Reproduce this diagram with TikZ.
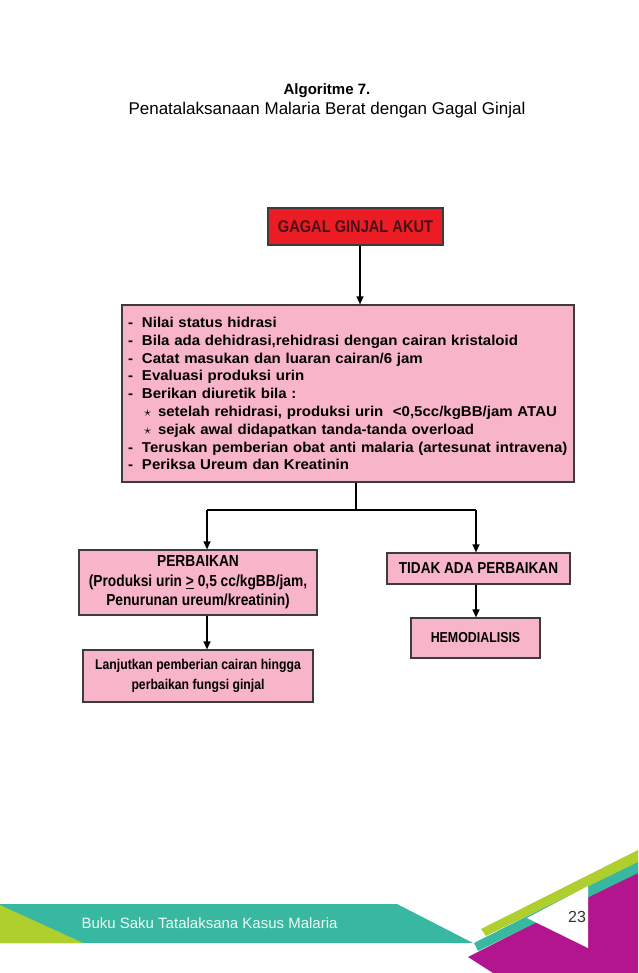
\documentclass[tikz,border=0pt]{standalone}
\usepackage{fontspec}
\setmainfont{Liberation Sans}
\newfontfamily\narrowsans[FakeStretch=0.86]{Liberation Sans}
\newfontfamily\widesans[FakeStretch=1.05]{Liberation Sans}
\usetikzlibrary{arrows.meta}
\definecolor{boxpink}{HTML}{F8B4C9}
\definecolor{akutred}{HTML}{EC1C24}
\definecolor{akuttext}{HTML}{4A1216}
\definecolor{framegray}{HTML}{3C3C3C}
\definecolor{footteal}{HTML}{38B8A0}
\definecolor{footlime}{HTML}{AECF2E}
\definecolor{footmagenta}{HTML}{B3158E}
\newcommand{\dashline}[1]{\makebox[14pt][l]{-}#1}
\newcommand{\starline}[1]{\hspace*{16pt}\makebox[14pt][l]{$\star$}#1}
\newcommand{\boxfont}[2]{\narrowsans\bfseries\fontsize{#1}{#2}\selectfont}

\begin{document}
\begin{tikzpicture}[x=1pt, y=-1pt,
	box/.style = {draw=framegray, line width=1.2pt, fill=boxpink, inner sep=0pt, align=center,
		font=\boxfont{14.4}{19.5}},
	>={Triangle[length=8pt,width=7pt]}]
				\useasboundingbox (0,0) rectangle (638,973);
				% title
				\node[font=\bfseries\fontsize{15}{18}\selectfont] (alg) at (327,91) {Algoritme 7.};
				\node[font=\fontsize{17}{18}\selectfont] (judul) at (327,110) {Penatalaksanaan Malaria Berat dengan Gagal Ginjal};
				% flow
				\node[box, fill=akutred, text=akuttext, minimum width=175pt, minimum height=37pt, font=\boxfont{17}{20}] (akut) at (355.5,226.5) {GAGAL GINJAL AKUT};
				\node[box, minimum width=452pt, minimum height=177pt, align=left, text width=440pt, inner xsep=6pt,
					font=\widesans\bfseries\fontsize{14.3}{17.8}\selectfont] (tata) at (348,393.5) {%
					\dashline{Nilai status hidrasi}\\
					\dashline{Bila ada dehidrasi,rehidrasi dengan cairan kristaloid}\\
					\dashline{Catat masukan dan luaran cairan/6 jam}\\
					\dashline{Evaluasi produksi urin}\\
					\dashline{Berikan diuretik bila :}\\
					\starline{setelah rehidrasi, produksi urin \ <0,5cc/kgBB/jam ATAU}\\
					\starline{sejak awal didapatkan tanda-tanda overload}\\
					\dashline{Teruskan pemberian obat anti malaria (artesunat intravena)}\\
					\dashline{Periksa Ureum dan Kreatinin}};
				\node[box, minimum width=238pt, minimum height=65pt, font=\boxfont{16}{19.5}] (perbaikan) at (198,582.5) {PERBAIKAN\\(Produksi urin \underline{>} 0,5 cc/kgBB/jam,\\Penurunan ureum/kreatinin)};
				\node[box, minimum width=230pt, minimum height=52pt, font=\boxfont{14.2}{20}] (lanjut) at (198,676) {Lanjutkan pemberian cairan hingga\\perbaikan fungsi ginjal};
				\node[box, minimum width=183pt, minimum height=31pt, font=\boxfont{15.8}{19}] (tidak) at (478.5,568.5) {TIDAK ADA PERBAIKAN};
				\node[box, minimum width=129pt, minimum height=40pt] (hemo) at (475.5,638) {HEMODIALISIS};
				\coordinate (cabang) at (356,510);
				\coordinate (kiri) at (207,510);
				\coordinate (kanan) at (476,510);
				\draw[line width=1.2pt, ->] (akut.south -| 360,0) -- (tata.north -| 360,0);
				\draw[line width=1.2pt] (tata.south -| cabang) -- (cabang) (kiri) -- (kanan);
				\draw[line width=1.2pt, ->] (kiri) -- (kiri |- perbaikan.north);
				\draw[line width=1.2pt, ->] (kanan) -- (kanan |- tidak.north);
				\draw[line width=1.2pt, ->] (perbaikan.south -| kiri) -- (lanjut.north -| kiri);
				\draw[line width=1.2pt, ->] (tidak.south -| kanan) -- (hemo.north -| kanan);
				% footer
				\fill[footteal] (0,904) -- (397,904) -- (473,943) -- (0,943) -- cycle;
				\fill[footlime] (0,905) -- (83,943) -- (0,943) -- cycle;
				\fill[footmagenta] (468,957) -- (638,870) -- (638,973) -- (493,973) -- cycle;
				\fill[footteal] (474,943) -- (638,860) -- (638,873) -- (478,951) -- cycle;
				\fill[footlime] (481,929) -- (638,850) -- (638,862) -- (486,936) -- cycle;
				\fill[white] (527,918) -- (588,886) -- (588,948) -- cycle;
				\node[anchor=west, text=white!92!footteal, font=\fontsize{15}{17}\selectfont] (buku) at (78,923) {Buku Saku Tatalaksana Kasus Malaria};
				\node[text=black!80, font=\fontsize{16}{18}\selectfont] (hal) at (577,917) {23};
			\end{tikzpicture}
\end{document}
